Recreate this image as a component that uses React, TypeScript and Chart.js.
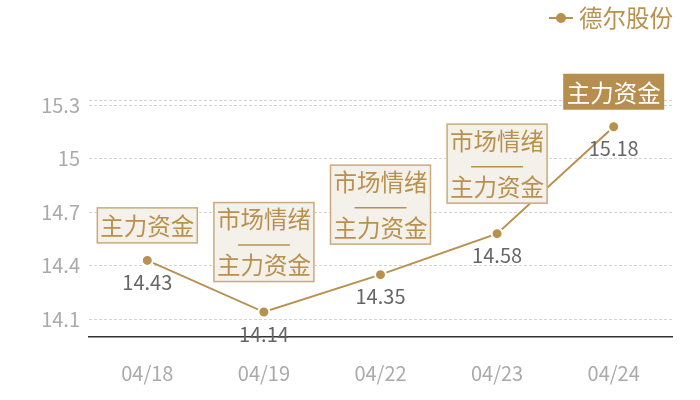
import React, { useEffect, useRef } from 'react';
import Chart from 'chart.js/auto';

const categories = ['04/18', '04/19', '04/22', '04/23', '04/24'];
const prices = [14.43, 14.14, 14.35, 14.58, 15.18];
const yTicks = [14.1, 14.4, 14.7, 15, 15.3];
// each note: lines of text, a null entry is the separator rule
const notes = [
  ['主力资金'],
  ['市场情绪', null, '主力资金'],
  ['市场情绪', null, '主力资金'],
  ['市场情绪', null, '主力资金'],
  ['主力资金'],
];
const highlighted = [false, false, false, false, true];
const seriesName = '德尔股份';

const Y_MIN = 14.0;
const Y_MAX = 15.33;
const GOLD = '#b8914f';
const FONT = '"Noto Sans CJK SC", "Noto Sans", sans-serif';

const overlay = {
  id: 'overlay',
  afterDatasetsDraw(chart: any) {
    const ctx = chart.ctx;
    const meta = chart.getDatasetMeta(0);
    ctx.save();
    meta.data.forEach((pt: any, i: number) => {
      const { x, y } = pt.getProps(['x', 'y'], true);
      // value label under the point
      ctx.font = `20px ${FONT}`;
      ctx.fillStyle = '#666';
      ctx.textAlign = 'center';
      ctx.textBaseline = 'middle';
      ctx.fillText(String(prices[i]), x, y + 22);

      // note box above the point
      const lines = notes[i];
      const multi = lines.length > 1;
      const h = multi ? 80 : 36;
      const w = 101;
      const bottom = y - (multi ? 30 : 17);
      const top = bottom - h;
      const left = x - w / 2;
      if (highlighted[i]) {
        ctx.fillStyle = '#b68e4e';
        ctx.fillRect(left, top, w, h);
      } else {
        ctx.fillStyle = '#f4f0ea';
        ctx.fillRect(left, top, w, h);
        ctx.strokeStyle = '#cbab7c';
        ctx.lineWidth = 1.5;
        ctx.strokeRect(left + 0.5, top + 0.5, w - 1, h - 1);
      }
      const ink = highlighted[i] ? '#ffffff' : GOLD;
      ctx.fillStyle = ink;
      ctx.font = `23.5px ${FONT}`;
      if (multi) {
        ctx.fillText(lines[0], x, top + 17);
        ctx.strokeStyle = ink;
        ctx.lineWidth = 1.5;
        ctx.beginPath();
        ctx.moveTo(x - 26, top + 43);
        ctx.lineTo(x + 26, top + 43);
        ctx.stroke();
        ctx.fillText(lines[2], x, top + 63);
      } else {
        ctx.fillText(lines[0], x, top + h / 2 + 1);
      }
    });

    // legend, top right
    const ly = 18;
    ctx.strokeStyle = GOLD;
    ctx.lineWidth = 2;
    ctx.beginPath();
    ctx.moveTo(549, ly);
    ctx.lineTo(573, ly);
    ctx.stroke();
    ctx.fillStyle = GOLD;
    ctx.beginPath();
    ctx.arc(561, ly, 5, 0, Math.PI * 2);
    ctx.fill();
    ctx.font = `23.5px ${FONT}`;
    ctx.textAlign = 'left';
    ctx.textBaseline = 'middle';
    ctx.fillText(seriesName, 579, ly);
    ctx.restore();
  },
};

const App: React.FC = () => {
  const chartRef = useRef<HTMLCanvasElement>(null);
  const chartInstance = useRef<Chart | null>(null);

  useEffect(() => {
    if (!chartRef.current) return;
    if (chartInstance.current) chartInstance.current.destroy();

    chartInstance.current = new Chart(chartRef.current, {
      type: 'line',
      data: {
        labels: categories,
        datasets: [
          {
            label: seriesName,
            data: prices,
            borderColor: GOLD,
            borderWidth: 2,
            pointRadius: 5.5,
            pointBackgroundColor: GOLD,
            pointBorderColor: '#ffffff',
            pointBorderWidth: 2,
            tension: 0,
          },
        ],
      },
      options: {
        responsive: true,
        maintainAspectRatio: false,
        animation: false,
        layout: { padding: { top: 100, right: 28, left: 0, bottom: 0 } },
        plugins: {
          legend: { display: false },
          tooltip: { enabled: false },
        },
        scales: {
          x: {
            offset: true,
            grid: { display: false, drawTicks: false },
            border: { display: true, color: '#333', width: 1.5 },
            ticks: {
              color: '#aaa',
              padding: 24,
              font: { size: 20, family: FONT },
            },
            afterFit: (scale: any) => {
              scale.height = 63;
            },
          },
          y: {
            min: Y_MIN,
            max: Y_MAX,
            grid: { color: '#d4d4d4', lineWidth: 1, drawTicks: false },
            border: { display: false, dash: [3, 2] },
            afterBuildTicks: (scale: any) => {
              scale.ticks = [...yTicks, Y_MAX].map((value) => ({ value }));
            },
            ticks: {
              color: '#aaa',
              padding: 9,
              font: { size: 20, family: FONT },
              callback: (value: any) => (yTicks.includes(Number(value)) ? String(value) : ''),
            },
            afterFit: (scale: any) => {
              scale.width = 89;
            },
          },
        },
      },
      plugins: [overlay],
    });

    return () => {
      if (chartInstance.current) {
        chartInstance.current.destroy();
        chartInstance.current = null;
      }
    };
  }, []);

  return (
    <div style={{ position: 'absolute', left: 0, top: 0, width: 700, height: 400, background: '#fff' }}>
      <canvas ref={chartRef} />
    </div>
  );
};

export default App;
